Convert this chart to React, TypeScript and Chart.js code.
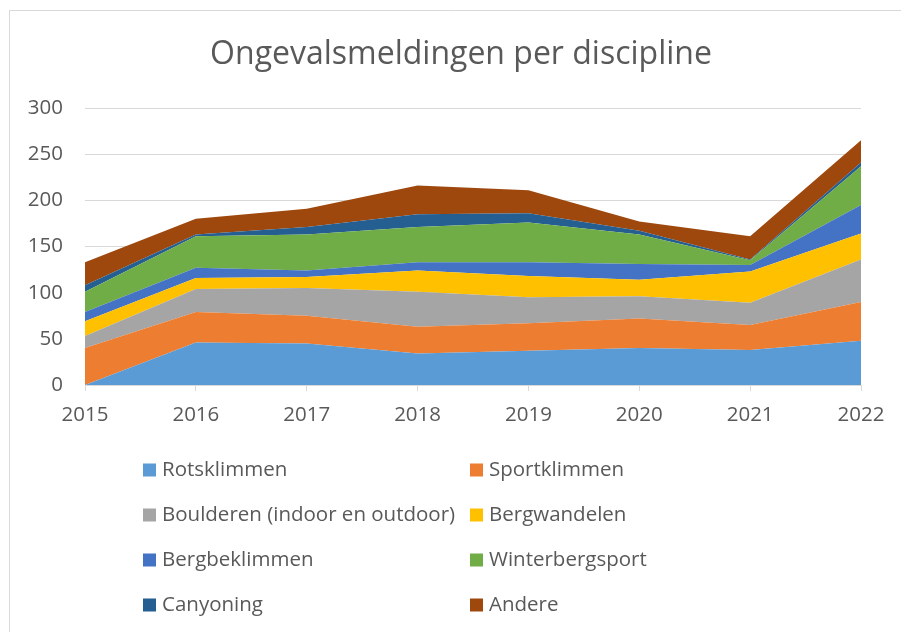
import React, { useEffect, useRef } from "react";
import { Chart, registerables } from "chart.js";

Chart.register(...registerables);

const years = ["2015", "2016", "2017", "2018", "2019", "2020", "2021", "2022"];
const rotsklimmen = [0, 46, 45, 34, 37, 40, 38, 48];
const sportklimmen = [40, 33, 30, 29, 30, 32, 27, 42];
const boulderen = [13, 25, 30, 38, 28, 24, 24, 46];
const bergwandelen = [16, 12, 12, 23, 23, 18, 34, 28];
const bergbeklimmen = [10, 11, 7, 9, 15, 17, 7, 31];
const winterbergsport = [22, 34, 39, 38, 43, 32, 5, 42];
const canyoning = [7, 2, 8, 14, 10, 4, 1, 4];
const andere = [25, 17, 20, 31, 25, 10, 25, 24];

const chartTitle = "Ongevalsmeldingen per discipline";
const seriesNames = [
  "Rotsklimmen",
  "Sportklimmen",
  "Boulderen (indoor en outdoor)",
  "Bergwandelen",
  "Bergbeklimmen",
  "Winterbergsport",
  "Canyoning",
  "Andere",
];
const seriesValues = [rotsklimmen, sportklimmen, boulderen, bergwandelen, bergbeklimmen, winterbergsport, canyoning, andere];
const seriesColors = ["#5B9BD5", "#ED7D31", "#A5A5A5", "#FFC000", "#4472C4", "#70AD47", "#255E91", "#9E480E"];

const FONT = "'Open Sans', sans-serif";
const TEXT = "#595959";

const frameAndLegend = {
  id: "frameAndLegend",
  beforeDraw(chart: any) {
    const ctx = chart.ctx;
    ctx.save();
    ctx.fillStyle = "#ffffff";
    ctx.fillRect(0, 0, chart.width, chart.height);
    ctx.strokeStyle = "#d9d9d9";
    ctx.lineWidth = 1;
    ctx.beginPath();
    ctx.moveTo(9.5, chart.height);
    ctx.lineTo(9.5, 10.5);
    ctx.lineTo(chart.width, 10.5);
    ctx.stroke();
    ctx.restore();
  },
  afterDraw(chart: any) {
    const ctx = chart.ctx;
    ctx.save();
    ctx.fillStyle = TEXT;
    ctx.textAlign = "center";
    ctx.textBaseline = "middle";
    ctx.font = `32px ${FONT}`;
    ctx.fillText(chartTitle, 461, 55);

    ctx.font = `20.5px ${FONT}`;
    ctx.textBaseline = "middle";
    ctx.textAlign = "left";
    chart.data.datasets.forEach((ds: any, i: number) => {
      const col = i % 2;
      const row = Math.floor(i / 2);
      const bx = col === 0 ? 143 : 470;
      const cy = 470 + row * 45;
      ctx.fillStyle = ds.backgroundColor;
      ctx.fillRect(bx, cy - 6.5, 13, 13);
      ctx.fillStyle = TEXT;
      ctx.fillText(ds.label, bx + 19, cy);
    });
    ctx.restore();
  },
};

export default function App() {
  const ref = useRef<HTMLCanvasElement>(null);

  useEffect(() => {
    if (!ref.current) return;
    const chart = new Chart(ref.current, {
      type: "line",
      data: {
        labels: years,
        datasets: seriesNames.map((name, i) => ({
          label: name,
          data: seriesValues[i],
          backgroundColor: seriesColors[i],
          borderColor: seriesColors[i],
          borderWidth: 0,
          pointRadius: 0,
          tension: 0,
          fill: i === 0 ? "origin" : "-1",
        })),
      },
      options: {
        responsive: false,
        animation: false,
        layout: { padding: { left: 0, right: 40, top: 108, bottom: 187 } },
        plugins: {
          legend: { display: false },
          tooltip: { enabled: false },
          title: { display: false },
        },
        scales: {
          x: {
            offset: false,
            grid: {
              drawOnChartArea: false,
              drawTicks: true,
              tickLength: 6,
              color: "#d9d9d9",
            },
            border: { display: true, color: "#d9d9d9", width: 1 },
            ticks: {
              color: TEXT,
              font: { family: FONT, size: 20.5 },
              padding: 12,
              maxRotation: 0,
              autoSkip: false,
            },
            afterFit(scale: any) {
              scale.height = 60;
            },
          },
          y: {
            stacked: true,
            min: 0,
            max: 300,
            grid: { color: "#d9d9d9", drawTicks: false },
            border: { display: false },
            ticks: {
              stepSize: 50,
              color: TEXT,
              font: { family: FONT, size: 20.5 },
              padding: 22,
            },
            afterFit(scale: any) {
              scale.width = 85;
            },
          },
        },
      },
      plugins: [frameAndLegend],
    });
    return () => chart.destroy();
  }, []);

  return (
    <div style={{ position: "absolute", left: 0, top: 0, width: 901, height: 632, background: "#fff" }}>
      <canvas ref={ref} width={901} height={632} style={{ display: "block" }} />
    </div>
  );
}
